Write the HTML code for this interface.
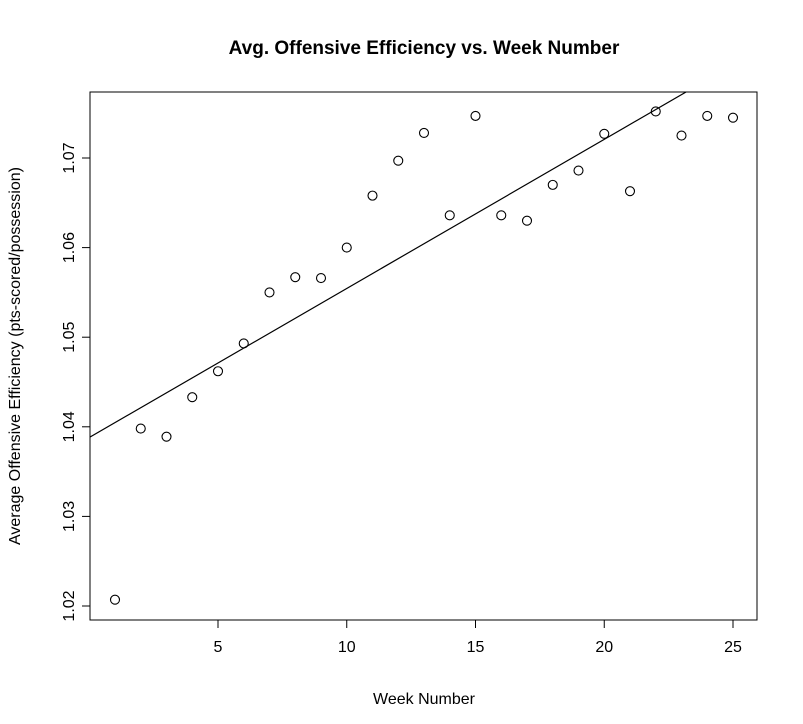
<!DOCTYPE html>
<html><head><meta charset="utf-8"><style>
body{margin:0;background:#fff}
svg{display:block;font-family:"Liberation Sans",Arial,sans-serif}
</style></head><body>
<svg id="chart" width="803" height="724">
<text x="424" y="54" text-anchor="middle" font-size="19" font-weight="bold">Avg. Offensive Efficiency vs. Week Number</text>
<text x="424" y="704" text-anchor="middle" font-size="16">Week Number</text>
<text transform="translate(20,356) rotate(-90)" text-anchor="middle" font-size="16">Average Offensive Efficiency (pts-scored/possession)</text>
<rect x="90" y="92" width="667" height="528" fill="none" stroke="#000"/>
<g id="xt"></g><g id="yt"></g>
<defs><clipPath id="clip"><rect x="90" y="92" width="667" height="528"/></clipPath></defs>
<g id="line" clip-path="url(#clip)"></g><g id="pts"></g>
</svg>
<script>
const weeks=[1,2,3,4,5,6,7,8,9,10,11,12,13,14,15,16,17,18,19,20,21,22,23,24,25];
const efficiency=[1.0207,1.0398,1.0389,1.0433,1.0462,1.0493,1.0550,1.0567,1.0566,1.0600,1.0658,1.0697,1.0728,1.0636,1.0747,1.0636,1.0630,1.0670,1.0686,1.0727,1.0663,1.0752,1.0725,1.0747,1.0745];
const xTicks=[5,10,15,20,25];
const yTicks=[1.02,1.03,1.04,1.05,1.06,1.07];
const fitIntercept=1.0388;
const fitSlope=0.001664;
const NS="http://www.w3.org/2000/svg";
const X=v=>115+(v-1)*25.75;
const Y=v=>606-(v-1.02)*8960;
function mk(t,a,p){const e=document.createElementNS(NS,t);for(const k in a)e.setAttribute(k,a[k]);p.appendChild(e);return e;}
const xt=document.getElementById('xt'),yt=document.getElementById('yt');
xTicks.forEach(t=>{
 const l=mk('line',{x1:X(t),x2:X(t),y1:620,y2:628,stroke:'#000'},xt);
 
 
 const tx=mk('text',{x:X(t),y:652,'text-anchor':'middle','font-size':16},xt);tx.textContent=t;
 
 
});
yTicks.forEach(t=>{
 const l=mk('line',{x1:82,x2:90,y1:Y(t),y2:Y(t),stroke:'#000'},yt);
 
 
 const tx=mk('text',{transform:`translate(74,${Y(t)}) rotate(-90)`,'text-anchor':'middle','font-size':16},yt);tx.textContent=t.toFixed(2);
 
 
});
const x0=0,x1=30;
const fl=mk('line',{x1:X(x0),y1:Y(fitIntercept+fitSlope*x0),x2:X(x1),y2:Y(fitIntercept+fitSlope*x1),stroke:'#000','stroke-width':1.2},document.getElementById('line'));


const pg=document.getElementById('pts');
weeks.forEach((w,i)=>{
 const c=mk('circle',{cx:X(w),cy:Y(efficiency[i]),r:4.5,fill:'none',stroke:'#000','stroke-width':1.1},pg);
 
 
});
</script>
</body></html>
